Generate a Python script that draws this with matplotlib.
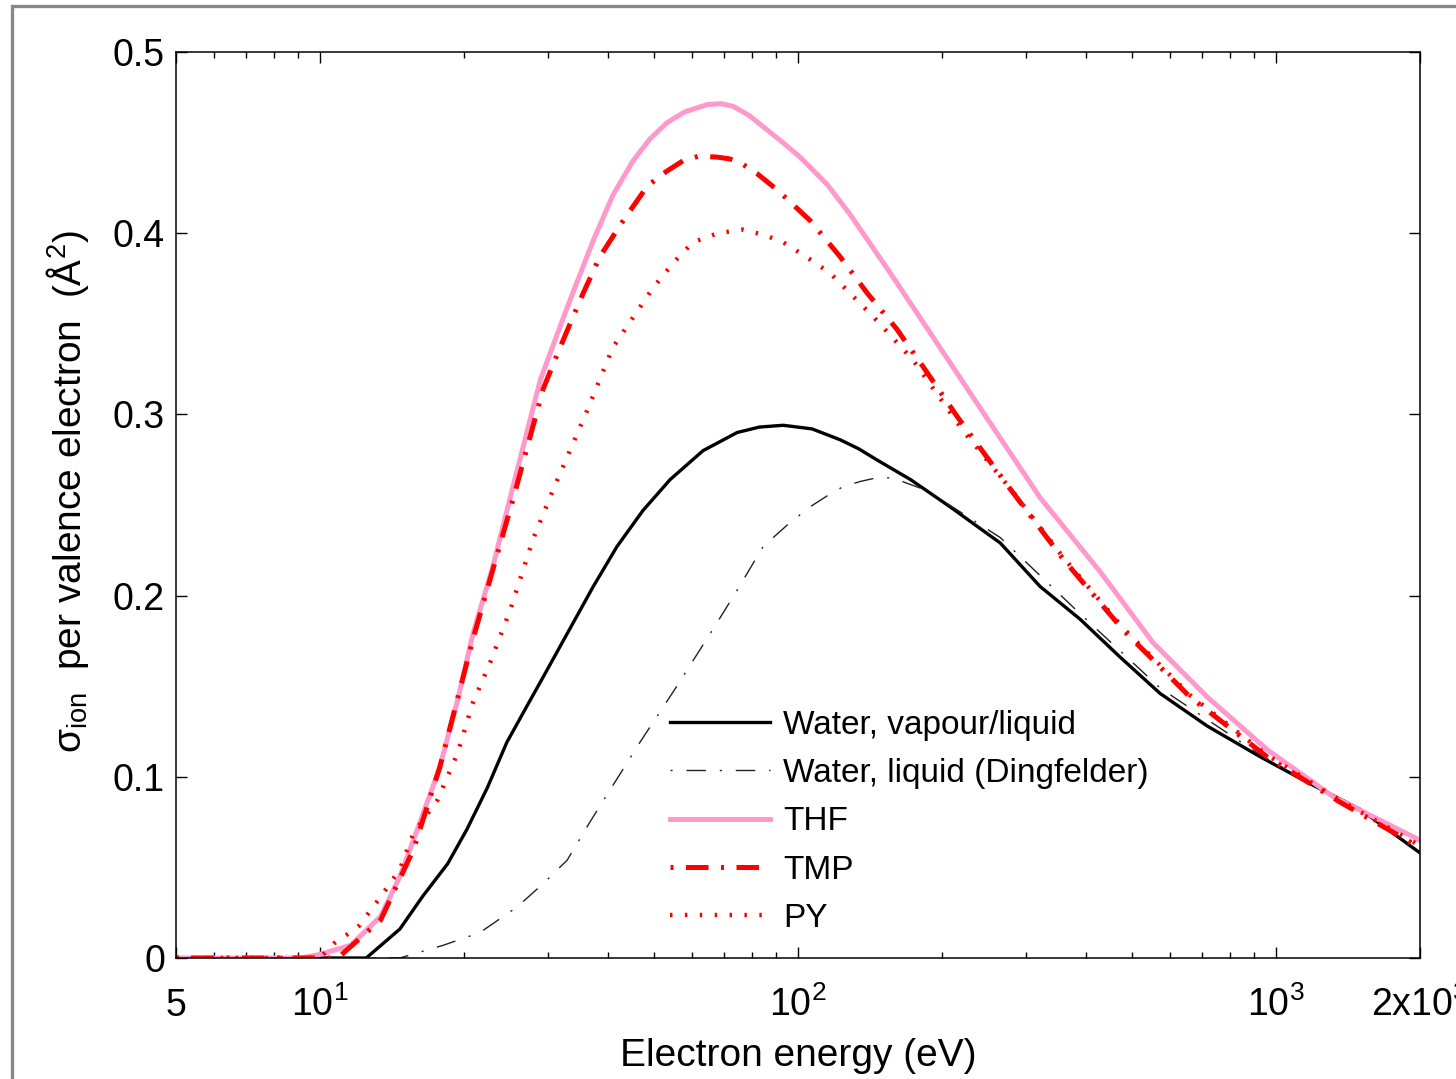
import numpy as np
import matplotlib
matplotlib.use('Agg')
import matplotlib.pyplot as plt
from matplotlib.patches import Rectangle
from matplotlib.ticker import FixedLocator, FixedFormatter

plt.rcParams['font.family'] = ['Liberation Sans', 'DejaVu Sans']
plt.rcParams['mathtext.fontset'] = 'custom'
plt.rcParams['mathtext.rm'] = 'Liberation Sans'
plt.rcParams['mathtext.it'] = 'Liberation Sans:italic'

# 电子能量 (eV) 与每个价电子的电离截面 (Å^2)
e_water = [5, 12.5, 14.7, 16.4, 18.5, 20.3, 22.4, 24.6, 27.1, 29.3, 32.9, 37.3, 41.8, 47.4, 54.0,
           63.3, 74.6, 83, 93.1, 107, 122.5, 134, 146, 172, 208, 265, 321, 389, 472, 572, 718, 927,
           1162, 1500, 2000]
s_water = [0, 0, 0.016, 0.034, 0.052, 0.071, 0.094, 0.119, 0.139, 0.155, 0.179, 0.205, 0.227, 0.247, 0.264,
           0.280, 0.290, 0.293, 0.294, 0.292, 0.286, 0.281, 0.275, 0.264, 0.249, 0.229, 0.205, 0.187, 0.166,
           0.146, 0.128, 0.111, 0.097, 0.082, 0.058]

e_ding = [5, 14.7, 18.1, 21.6, 25.8, 29.3, 32.9, 36.7, 40.5, 46.7, 55.8, 67.7, 74.6, 84.5, 95, 106, 115,
          124, 135, 146, 158, 169, 186, 265, 389, 572, 927, 1500, 2000]
s_ding = [0, 0, 0.007, 0.014, 0.028, 0.041, 0.054, 0.075, 0.093, 0.119, 0.150, 0.185, 0.203, 0.227, 0.239,
          0.249, 0.255, 0.260, 0.263, 0.265, 0.265, 0.262, 0.258, 0.232, 0.190, 0.149, 0.112, 0.082, 0.058]

e_thf = [5, 9.1, 10, 11.6, 13.4, 14.7, 16.2, 17.8, 19.4, 20.9, 23.0, 25.0, 28.9, 32.9, 37.3, 41, 45.2, 49,
         53.2, 58, 64.6, 69, 73.2, 79, 86.2, 93, 101, 115, 128, 156, 189, 244, 321, 429, 553, 718, 958,
         1317, 2000]
s_thf = [0, 0, 0.002, 0.007, 0.023, 0.045, 0.075, 0.105, 0.142, 0.179, 0.216, 0.254, 0.319, 0.359, 0.396,
         0.421, 0.440, 0.452, 0.461, 0.467, 0.471, 0.4715, 0.470, 0.465, 0.457, 0.450, 0.442, 0.427, 0.411,
         0.378, 0.345, 0.301, 0.254, 0.213, 0.174, 0.144, 0.115, 0.089, 0.065]

e_tmp = [5, 10.9, 13.4, 15.7, 17.8, 20.9, 25.4, 29.3, 31.8, 35.0, 38.5, 43.1, 48.4, 53, 57.5, 62, 67.7,
         72, 75.7, 82, 90.4, 106, 122.5, 139.5, 161, 183, 215, 274, 359, 479, 661, 958, 1361, 2000]
s_tmp = [0, 0, 0.021, 0.060, 0.105, 0.176, 0.254, 0.314, 0.337, 0.363, 0.387, 0.407, 0.426, 0.434, 0.440,
         0.4425, 0.442, 0.441, 0.439, 0.433, 0.424, 0.407, 0.387, 0.367, 0.347, 0.326, 0.299, 0.261, 0.220,
         0.181, 0.144, 0.111, 0.086, 0.061]

e_py = [5, 10, 10.7, 11.4, 12.1, 13.5, 14.7, 15.7, 17.6, 19.4, 20.9, 22.7, 25.0, 27.9, 30.7, 36.2, 41.0,
        49.8, 55, 60.3, 68, 76.8, 85, 93.1, 104, 116.7, 143.6, 174, 221.5, 282, 359, 479, 661, 958, 1361, 2000]
s_py = [0, 0, 0.008, 0.013, 0.018, 0.035, 0.049, 0.069, 0.087, 0.113, 0.141, 0.163, 0.192, 0.231, 0.258,
        0.302, 0.337, 0.370, 0.384, 0.395, 0.400, 0.402, 0.399, 0.395, 0.387, 0.378, 0.354, 0.330, 0.291,
        0.257, 0.221, 0.182, 0.145, 0.112, 0.087, 0.062]

xtick_vals = [5, 10, 100, 1000, 2000]
xtick_labels = ['5', r'$10^{1}$', r'$10^{2}$', r'$10^{3}$', r'$2\mathrm{x}10^{3}$']
ytick_vals = [0, 0.1, 0.2, 0.3, 0.4, 0.5]
ytick_labels = ['0', '0.1', '0.2', '0.3', '0.4', '0.5']

fig = plt.figure(figsize=(14.56, 10.79), dpi=100)
ax = fig.add_axes([176/1456, 121/1079, 1244/1456, 906/1079])

ax.plot(e_water, s_water, color='black', lw=2.4, solid_joinstyle='round', label='Water, vapour/liquid')
ax.plot(e_ding, s_ding, color='#222222', lw=1.0, linestyle=(0, (1.5, 10, 14, 10)),
        label='Water, liquid (Dingfelder)')
ax.plot(e_thf, s_thf, color='#ff99cc', lw=3.6, solid_joinstyle='round', label='THF')
ax.plot(e_tmp, s_tmp, color='red', lw=3.6, linestyle=(0, (0.6, 2.5, 4.5, 2.5)), label='TMP')
ax.plot(e_py, s_py, color='red', lw=3.2, linestyle=(0, (0.55, 2.8)), label='PY')

ax.set_xscale('log')
ax.set_xlim(5, 2000)
ax.set_ylim(0, 0.5)

ax.xaxis.set_major_locator(FixedLocator(xtick_vals))
ax.xaxis.set_major_formatter(FixedFormatter(xtick_labels))
minor = [v * d for d in [1, 10, 100] for v in range(2, 10) if 5 < v * d < 2000 and v * d not in xtick_vals]
ax.xaxis.set_minor_locator(FixedLocator(minor))
ax.xaxis.set_minor_formatter(FixedFormatter([]))
ax.set_yticks(ytick_vals)
ax.set_yticklabels(ytick_labels)

ax.tick_params(which='both', direction='in', top=True, right=True, labelsize=27)
ax.tick_params(which='major', length=8, width=1)
ax.tick_params(which='minor', length=4.5, width=1)
ax.tick_params(axis='x', pad=42)
ax.tick_params(axis='y', pad=8)
plt.setp(ax.get_xticklabels(), va='baseline')
for sp in ax.spines.values():
    sp.set_linewidth(1.1)

ax.set_xlabel('Electron energy (eV)', fontsize=28)
ax.xaxis.set_label_coords(0.5, -0.088)
ax.set_ylabel('σ$_{\\mathrm{ion}}$  per valence electron  (Å$^{2}$)', fontsize=28)
ax.yaxis.set_label_coords(-0.068, 0.515)

ax.legend(loc='upper left', bbox_to_anchor=(0.397, 0.274), frameon=False, fontsize=24,
          handlelength=3.0, handletextpad=0.4, labelspacing=0.52, borderpad=0, borderaxespad=0)

# 外框（灰色）
fig.patches.append(Rectangle((11.5/1456, -0.1), 1.2, (1079 - 5.5)/1079 + 0.1, transform=fig.transFigure,
                             fill=False, edgecolor='#888888', lw=2.4, clip_on=False))

fig.savefig('out.png', dpi=100)
